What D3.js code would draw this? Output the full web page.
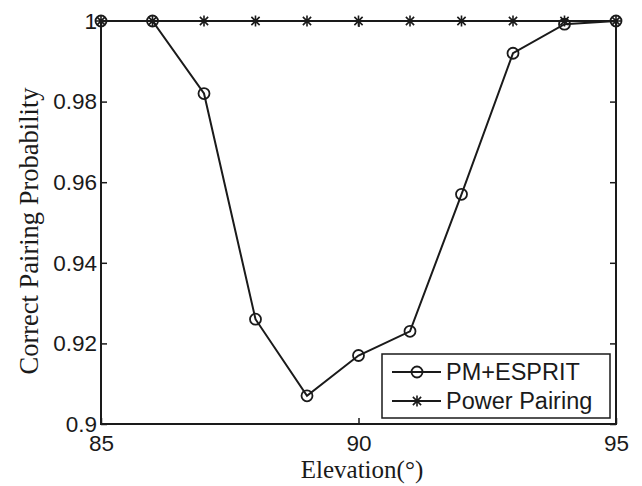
<!DOCTYPE html>
<html><head><meta charset="utf-8">
<script src="https://cdn.jsdelivr.net/npm/d3@7"></script>
<style>body{margin:0;background:#fff}</style>
</head><body>
<svg id="c" width="642" height="486"></svg>
<script>
const elevation = [85, 86, 87, 88, 89, 90, 91, 92, 93, 94, 95];
const pmEsprit = [1, 1, 0.982, 0.926, 0.907, 0.917, 0.923, 0.957, 0.992, 0.9992, 1];
const powerPairing = [1, 1, 1, 1, 1, 1, 1, 1, 1, 1, 1];
const xTicks = [85, 90, 95];
const yTicks = [0.9, 0.92, 0.94, 0.96, 0.98, 1];
const yTickLabels = ["0.9", "0.92", "0.94", "0.96", "0.98", "1"];
const seriesNames = ["PM+ESPRIT", "Power Pairing"];

const svg = d3.select("#c");
const L = 101, R = 616, T = 21, B = 424;
const x = d3.scaleLinear().domain([85, 95]).range([L, R]);
const y = d3.scaleLinear().domain([0.9, 1]).range([B, T]);
const ink = "#1a1a1a";
const tickFont = "'Liberation Sans', Arial, sans-serif";
const serif = "'Liberation Serif', 'Times New Roman', serif";

// axes (MATLAB-style box with inward ticks)
const gx = svg.append("g").attr("transform", `translate(0,${B})`)
  .call(d3.axisBottom(x).tickValues(xTicks).tickSizeInner(-6).tickSizeOuter(0).tickPadding(11).tickFormat(d3.format("d")));
const gxt = svg.append("g").attr("transform", `translate(0,${T})`)
  .call(d3.axisTop(x).tickValues(xTicks).tickSizeInner(-6).tickSizeOuter(0).tickFormat(""));
const gy = svg.append("g").attr("transform", `translate(${L},0)`)
  .call(d3.axisLeft(y).tickValues(yTicks).tickSizeInner(-6).tickSizeOuter(0).tickPadding(4).tickFormat((d, i) => yTickLabels[i]));
const gyr = svg.append("g").attr("transform", `translate(${R},0)`)
  .call(d3.axisRight(y).tickValues(yTicks).tickSizeInner(-6).tickSizeOuter(0).tickFormat(""));
[gx, gxt, gy, gyr].forEach(g => {
  g.select(".domain").remove();
  g.selectAll("line").attr("stroke", ink).attr("stroke-width", 1.5);
  g.selectAll("text").attr("fill", ink).style("font-family", tickFont).style("font-size", "22.5px");
});
gx.selectAll("text").attr("dy", "0.71em");
gy.selectAll("text").attr("x", -4);
svg.append("rect").attr("x", L).attr("y", T).attr("width", R - L).attr("height", B - T)
  .attr("fill", "none").attr("stroke", ink).attr("stroke-width", 2);

// labels
svg.append("text").attr("x", 362).attr("y", 478).attr("text-anchor", "middle")
  .style("font-family", serif).style("font-size", "25px").attr("fill", ink).text("Elevation(°)");
svg.append("text").attr("transform", `translate(38,231) rotate(-90)`).attr("text-anchor", "middle")
  .style("font-family", serif).style("font-size", "26.5px").attr("fill", ink).text("Correct Pairing Probability");

const line = d3.line().x((d, i) => x(elevation[i])).y(d => y(d));

function star(g, cx, cy, s) {
  const p = d3.path();
  p.moveTo(cx - s, cy); p.lineTo(cx + s, cy);
  p.moveTo(cx, cy - s); p.lineTo(cx, cy + s);
  const k = s * 0.75;
  p.moveTo(cx - k, cy - k); p.lineTo(cx + k, cy + k);
  p.moveTo(cx - k, cy + k); p.lineTo(cx + k, cy - k);
  g.append("path").attr("d", p.toString()).attr("stroke", ink).attr("stroke-width", 1.6).attr("fill", "none");
}

// Power Pairing
svg.append("path").datum(powerPairing).attr("d", line).attr("fill", "none").attr("stroke", ink).attr("stroke-width", 2);
const gs = svg.append("g");
powerPairing.forEach((v, i) => star(gs, x(elevation[i]), y(v), 5.5));

// PM+ESPRIT
svg.append("path").datum(pmEsprit).attr("d", line).attr("fill", "none").attr("stroke", ink).attr("stroke-width", 2);
svg.append("g").selectAll("circle").data(pmEsprit).join("circle")
  .attr("cx", (d, i) => x(elevation[i])).attr("cy", d => y(d)).attr("r", 5.5)
  .attr("fill", "none").attr("stroke", ink).attr("stroke-width", 1.8);

// legend
const lg = svg.append("g");
lg.append("rect").attr("x", 382).attr("y", 354).attr("width", 228).attr("height", 64)
  .attr("fill", "#fff").attr("stroke", ink).attr("stroke-width", 1.5);
const rows = [372, 401];
seriesNames.forEach((name, i) => {
  const yy = rows[i];
  lg.append("line").attr("x1", 392).attr("x2", 441).attr("y1", yy).attr("y2", yy).attr("stroke", ink).attr("stroke-width", 2);
  if (i === 0) lg.append("circle").attr("cx", 417).attr("cy", yy).attr("r", 5.5).attr("fill", "none").attr("stroke", ink).attr("stroke-width", 1.8);
  else star(lg, 417, yy, 5.5);
  lg.append("text").attr("x", 446).attr("y", yy).attr("dy", "0.36em")
    .style("font-family", tickFont).style("font-size", "23.5px").attr("fill", ink).text(name);
});
</script>
</body></html>
